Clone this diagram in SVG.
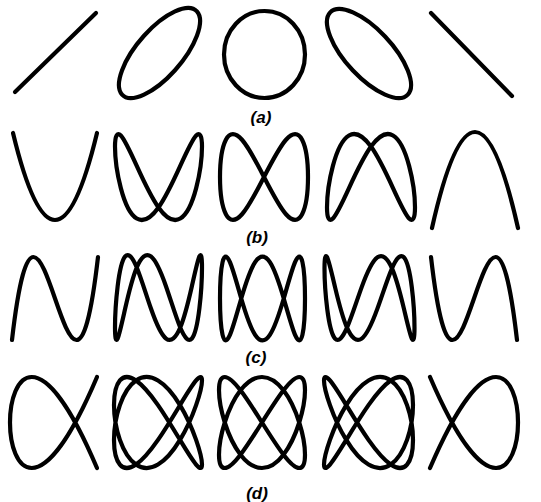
<svg xmlns="http://www.w3.org/2000/svg" xmlns:xlink="http://www.w3.org/1999/xlink" width="541" height="502" viewBox="0 0 541 502">
<style>
.c{fill:none;stroke:#000;stroke-width:4.2;stroke-linecap:round;stroke-linejoin:round;vector-effect:non-scaling-stroke}
.lbl{font-family:"Liberation Sans",Arial,sans-serif;font-style:italic;font-weight:bold;font-size:17px;fill:#000;text-anchor:middle}
</style>
<defs>
<path id="pB2" class="c" d="M100,-70.71 C100,-46.03 95.33,-7.84 86.60,25.88 C77.87,59.60 65.11,87.56 50,96.59 C34.89,105.62 17.45,95.39 0,70.71 C-17.45,46.03 -34.89,7.84 -50,-25.88 C-65.11,-59.60 -77.87,-87.56 -86.60,-96.59 C-95.33,-105.62 -100,-95.39 -100,-70.71 C-100,-46.03 -95.33,-7.84 -86.60,25.88 C-77.87,59.60 -65.11,87.56 -50,96.59 C-34.89,105.62 -17.45,95.39 0,70.71 C17.45,46.03 34.89,7.84 50,-25.88 C65.11,-59.60 77.87,-87.56 86.60,-96.59 C95.33,-105.62 100,-95.39 100,-70.71 Z"/>
<path id="pC2" class="c" d="M100,-70.71 C100,-46.03 97.95,-7.84 93.97,25.88 C89.99,59.60 84.08,87.56 76.60,96.59 C69.12,105.62 60.08,95.39 50,70.71 C39.92,46.03 28.82,7.84 17.36,-25.88 C5.90,-59.60 -5.90,-87.56 -17.36,-96.59 C-28.82,-105.62 -39.92,-95.39 -50,-70.71 C-60.08,-46.03 -69.12,-7.84 -76.60,25.88 C-84.08,59.60 -89.99,87.56 -93.97,96.59 C-97.95,105.62 -100,95.39 -100,70.71 C-100,46.03 -97.95,7.84 -93.97,-25.88 C-89.99,-59.60 -84.08,-87.56 -76.60,-96.59 C-69.12,-105.62 -60.08,-95.39 -50,-70.71 C-39.92,-46.03 -28.82,-7.84 -17.36,25.88 C-5.90,59.60 5.90,87.56 17.36,96.59 C28.82,105.62 39.92,95.39 50,70.71 C60.08,46.03 69.12,7.84 76.60,-25.88 C84.08,-59.60 89.99,-87.56 93.97,-96.59 C97.95,-105.62 100,-95.39 100,-70.71 Z"/>
<path id="pD1" class="c" d="M100,100 C-166.7,-500 -166.7,500 100,-100"/>
<path id="pD2" class="c" d="M100,-92.39 C100,-82.37 95.33,-62.46 86.60,-38.27 C77.87,-14.08 65.11,14.08 50,38.27 C34.89,62.46 17.45,82.37 0,92.39 C-17.45,102.41 -34.89,102.41 -50,92.39 C-65.11,82.37 -77.87,62.46 -86.60,38.27 C-95.33,14.08 -100,-14.08 -100,-38.27 C-100,-62.46 -95.33,-82.37 -86.60,-92.39 C-77.87,-102.41 -65.11,-102.41 -50,-92.39 C-34.89,-82.37 -17.45,-62.46 0,-38.27 C17.45,-14.08 34.89,14.08 50,38.27 C65.11,62.46 77.87,82.37 86.60,92.39 C95.33,102.41 100,102.41 100,92.39 C100,82.37 95.33,62.46 86.60,38.27 C77.87,14.08 65.11,-14.08 50,-38.27 C34.89,-62.46 17.45,-82.37 0,-92.39 C-17.45,-102.41 -34.89,-102.41 -50,-92.39 C-65.11,-82.37 -77.87,-62.46 -86.60,-38.27 C-95.33,-14.08 -100,14.08 -100,38.27 C-100,62.46 -95.33,82.37 -86.60,92.39 C-77.87,102.41 -65.11,102.41 -50,92.39 C-34.89,82.37 -17.45,62.46 0,38.27 C17.45,14.08 34.89,-14.08 50,-38.27 C65.11,-62.46 77.87,-82.37 86.60,-92.39 C95.33,-102.41 100,-102.41 100,-92.39 Z"/>
</defs>

<!-- row (a) -->
<g id="a1"><line class="c" x1="15" y1="92" x2="96" y2="13"/></g>
<g id="a2" transform="translate(159.5,53) scale(0.405,0.45)"><ellipse class="c" rx="130.66" ry="54.12" transform="rotate(-45)"/></g>
<g id="a3"><ellipse class="c" cx="264.5" cy="54.5" rx="40.5" ry="43.5"/></g>
<g id="a4" transform="translate(369,53.5) scale(0.42,0.445)"><ellipse class="c" rx="130.66" ry="54.12" transform="rotate(45)"/></g>
<g id="a5"><line class="c" x1="431" y1="13" x2="512" y2="96"/></g>
<text id="label-a" class="lbl" x="261" y="123">(a)</text>

<!-- row (b) -->
<g id="b1" transform="translate(55,176.5) scale(0.42,0.435)"><path class="c" d="M-100,-100 Q0,300 100,-100"/></g>
<g id="b2" transform="translate(158.5,177) scale(0.435,0.43)"><use xlink:href="#pB2" href="#pB2"/></g>
<g id="b3" transform="translate(264,177) scale(0.44,0.43)"><path class="c" d="M100,0 C100,34.91 95.33,69.15 86.60,86.60 C77.87,104.05 65.11,104.05 50,86.60 C34.89,69.15 17.45,34.91 0,0 C-17.45,-34.91 -34.89,-69.15 -50,-86.60 C-65.11,-104.05 -77.87,-104.05 -86.60,-86.60 C-95.33,-69.15 -100,-34.91 -100,0 C-100,34.91 -95.33,69.15 -86.60,86.60 C-77.87,104.05 -65.11,104.05 -50,86.60 C-34.89,69.15 -17.45,34.91 0,0 C17.45,-34.91 34.89,-69.15 50,-86.60 C65.11,-104.05 77.87,-104.05 86.60,-86.60 C95.33,-69.15 100,-34.91 100,0 Z"/></g>
<g id="b4" transform="translate(371,177) scale(0.44,-0.43)"><use xlink:href="#pB2" href="#pB2"/></g>
<g id="b5" transform="translate(475,180) scale(0.43,0.48)"><path class="c" d="M-100,100 Q0,-300 100,100"/></g>
<text id="label-b" class="lbl" x="257" y="243">(b)</text>

<!-- row (c) -->
<g id="c1" transform="translate(55,298.5) scale(0.43,0.415)"><path class="c" d="M-100,100 C-33.33,-500 33.33,500 100,-100"/></g>
<g id="c2" transform="translate(158.5,297.5) scale(0.435,0.425)"><use xlink:href="#pC2" href="#pC2"/></g>
<g id="c3" transform="translate(262.5,298.5) scale(0.425,0.42)"><path class="c" d="M100,0 C100,34.91 97.95,69.15 93.97,86.60 C89.99,104.05 84.08,104.05 76.60,86.60 C69.12,69.15 60.08,34.91 50,0 C39.92,-34.91 28.82,-69.15 17.36,-86.60 C5.90,-104.05 -5.90,-104.05 -17.36,-86.60 C-28.82,-69.15 -39.92,-34.91 -50,0 C-60.08,34.91 -69.12,69.15 -76.60,86.60 C-84.08,104.05 -89.99,104.05 -93.97,86.60 C-97.95,69.15 -100,34.91 -100,0 C-100,-34.91 -97.95,-69.15 -93.97,-86.60 C-89.99,-104.05 -84.08,-104.05 -76.60,-86.60 C-69.12,-69.15 -60.08,-34.91 -50,0 C-39.92,34.91 -28.82,69.15 -17.36,86.60 C-5.90,104.05 5.90,104.05 17.36,86.60 C28.82,69.15 39.92,34.91 50,0 C60.08,-34.91 69.12,-69.15 76.60,-86.60 C84.08,-104.05 89.99,-104.05 93.97,-86.60 C97.95,-69.15 100,-34.91 100,0 Z"/></g>
<g id="c4" transform="translate(369.5,298) scale(-0.45,0.42)"><use xlink:href="#pC2" href="#pC2"/></g>
<g id="c5" transform="translate(474,298.5) scale(0.43,0.415)"><path class="c" d="M-100,-100 C-33.33,500 33.33,-500 100,100"/></g>
<text id="label-c" class="lbl" x="256" y="363">(c)</text>

<!-- row (d) -->
<g id="d1" transform="translate(53.5,422.5) scale(0.435,0.455)"><use xlink:href="#pD1" href="#pD1"/></g>
<g id="d2" transform="translate(158,422.5) scale(0.44,0.455)"><use xlink:href="#pD2" href="#pD2"/></g>
<g id="d3" transform="translate(262,422.5) scale(0.43,0.455)"><path class="c" d="M100,-70.71 C100,-52.20 95.33,-26.18 86.60,0 C77.87,26.18 65.11,52.20 50,70.71 C34.89,89.22 17.45,100 0,100 C-17.45,100 -34.89,89.22 -50,70.71 C-65.11,52.20 -77.87,26.18 -86.60,0 C-95.33,-26.18 -100,-52.20 -100,-70.71 C-100,-89.22 -95.33,-100 -86.60,-100 C-77.87,-100 -65.11,-89.22 -50,-70.71 C-34.89,-52.20 -17.45,-26.18 0,0 C17.45,26.18 34.89,52.20 50,70.71 C65.11,89.22 77.87,100 86.60,100 C95.33,100 100,89.22 100,70.71 C100,52.20 95.33,26.18 86.60,0 C77.87,-26.18 65.11,-52.20 50,-70.71 C34.89,-89.22 17.45,-100 0,-100 C-17.45,-100 -34.89,-89.22 -50,-70.71 C-65.11,-52.20 -77.87,-26.18 -86.60,0 C-95.33,26.18 -100,52.20 -100,70.71 C-100,89.22 -95.33,100 -86.60,100 C-77.87,100 -65.11,89.22 -50,70.71 C-34.89,52.20 -17.45,26.18 0,0 C17.45,-26.18 34.89,-52.20 50,-70.71 C65.11,-89.22 77.87,-100 86.60,-100 C95.33,-100 100,-89.22 100,-70.71 Z"/></g>
<g id="d4" transform="translate(368.5,422.5) scale(-0.445,0.455)"><use xlink:href="#pD2" href="#pD2"/></g>
<g id="d5" transform="translate(474,422.5) scale(-0.44,0.455)"><use xlink:href="#pD1" href="#pD1"/></g>
<text id="label-d" class="lbl" x="257" y="499">(d)</text>
</svg>
